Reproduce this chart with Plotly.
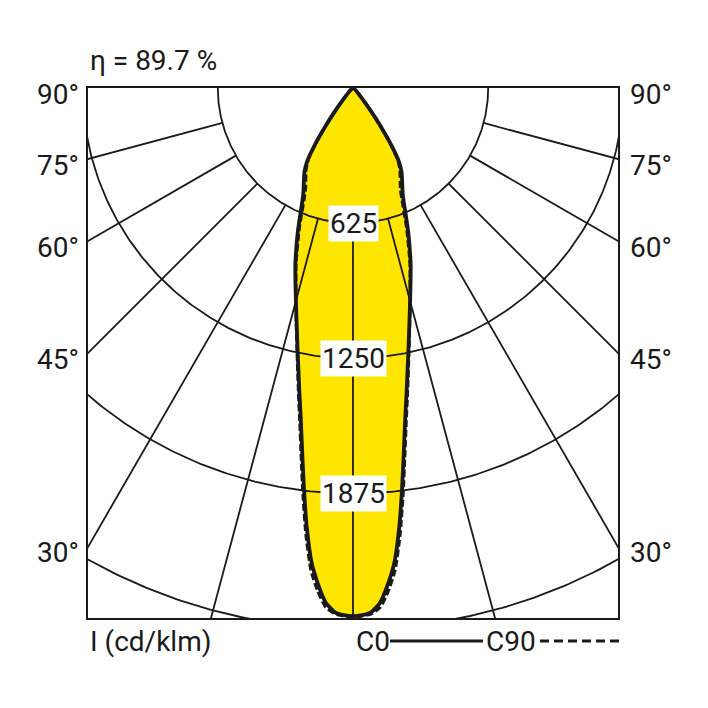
import numpy as np
import plotly.graph_objects as go

# ---- data ----
GAMMA = [0, 1, 2, 3, 4, 5, 6, 7, 8, 9, 10, 12, 15, 18, 21, 25, 30, 32, 34, 36, 38, 40, 45, 50, 60, 70, 80, 90]
I_C0 = [2441, 2437, 2424, 2384, 2302, 2200, 2043, 1862, 1690, 1544, 1427, 1233, 1020, 863, 712, 545, 449, 400, 310, 210, 130, 80, 30, 15, 5, 2, 1, 0]
I_C90 = [2445, 2441, 2432, 2404, 2332, 2235, 2078, 1897, 1720, 1569, 1447, 1243, 1020, 853, 692, 520, 434, 390, 305, 205, 128, 80, 30, 15, 5, 2, 1, 0]
RINGS = [625, 1250, 1875, 2500]
RING_LABELS = ["625", "1250", "1875"]
RADIAL_ANGLES = [0, 15, 30, 45, 60, 75]
ANGLE_LABELS = [90, 75, 60, 45, 30]
ETA_TEXT = "η = 89.7 %"
UNIT_TEXT = "I (cd/klm)"
LEGEND_NAMES = ["C0", "C90"]

XMAX = 1225
YMIN = -2450
FONT = "Roboto, Liberation Sans, sans-serif"
FS = 28
YELLOW = "#FFE600"
INK = "#1a1a1a"


def curve_xy(gammas, intens):
    g = np.radians(np.array(gammas, dtype=float))
    r = np.array(intens, dtype=float)
    xl = -r[::-1] * np.sin(g[::-1])
    yl = -r[::-1] * np.cos(g[::-1])
    xr = r[1:] * np.sin(g[1:])
    yr = -r[1:] * np.cos(g[1:])
    return np.concatenate([xl, xr]), np.concatenate([yl, yr])


fig = go.Figure()

# yellow fill
x0, y0 = curve_xy(GAMMA, I_C0)
fig.add_trace(go.Scatter(x=x0, y=y0, mode="lines", fill="toself", fillcolor=YELLOW,
                         line=dict(width=0, shape="spline", smoothing=0.5), hoverinfo="skip"))

# rings
gx, gy = [], []
t = np.radians(np.linspace(-90, 90, 361))
for R in RINGS:
    gx += list(R * np.sin(t)) + [None]
    gy += list(-R * np.cos(t)) + [None]
# radial lines
for a in RADIAL_ANGLES:
    for s in ([1, -1] if a != 0 else [1]):
        ar = np.radians(s * a)
        gx += [RINGS[0] * np.sin(ar), 4000 * np.sin(ar), None]
        gy += [-RINGS[0] * np.cos(ar), -4000 * np.cos(ar), None]
fig.add_trace(go.Scatter(x=gx, y=gy, mode="lines", line=dict(color=INK, width=1.8), hoverinfo="skip"))

# curves
x90, y90 = curve_xy(GAMMA, I_C90)
fig.add_trace(go.Scatter(x=x90, y=y90, mode="lines",
                         line=dict(color=INK, width=3.2, dash="7px,3px", shape="spline", smoothing=0.5)))
fig.add_trace(go.Scatter(x=x0, y=y0, mode="lines",
                         line=dict(color=INK, width=3.8, shape="spline", smoothing=0.5)))

# plot area is placed at screen px 88..618 (page body adds an 8px offset)
def px_x(p):
    return (p - 88) / 530


def px_y(p):
    return (618 - p) / 530


ann = []
for R, lab in zip(RINGS, RING_LABELS):
    ann.append(dict(x=0, y=-R, xref="x", yref="y", text=lab, showarrow=False,
                    bgcolor="white", borderpad=1, font=dict(size=FS, color=INK, family=FONT)))
for a in ANGLE_LABELS:
    yv = 0 if a == 90 else -XMAX / np.tan(np.radians(a))
    for xp, anch in ((-0.014, "right"), (1.018, "left")):
        ann.append(dict(x=xp, y=yv, xref="paper", yref="y", text=f"{a}°", showarrow=False,
                        xanchor=anch, yanchor="middle", yshift=-6,
                        font=dict(size=FS, color=INK, family=FONT)))
ann.append(dict(x=0, y=px_y(60), xref="paper", yref="paper", text=ETA_TEXT, showarrow=False,
                xanchor="left", yanchor="middle", font=dict(size=FS, color=INK, family=FONT)))
ann.append(dict(x=0, y=px_y(641), xref="paper", yref="paper", text=UNIT_TEXT, showarrow=False,
                xanchor="left", yanchor="middle", font=dict(size=FS, color=INK, family=FONT)))
ann.append(dict(x=px_x(354), y=px_y(641), xref="paper", yref="paper", text=LEGEND_NAMES[0],
                showarrow=False, xanchor="left", yanchor="middle", font=dict(size=FS, color=INK, family=FONT)))
ann.append(dict(x=px_x(484), y=px_y(641), xref="paper", yref="paper", text=LEGEND_NAMES[1],
                showarrow=False, xanchor="left", yanchor="middle", font=dict(size=FS, color=INK, family=FONT)))

ly = px_y(641)
shapes = [
    dict(type="line", xref="paper", yref="paper", x0=px_x(390), x1=px_x(483), y0=ly, y1=ly,
         line=dict(color=INK, width=3)),
    dict(type="line", xref="paper", yref="paper", x0=px_x(540), x1=px_x(619), y0=ly, y1=ly,
         line=dict(color=INK, width=3, dash="9px,5px")),
]

ax = dict(showgrid=False, zeroline=False, showticklabels=False, ticks="", showline=True, mirror=True,
          linecolor=INK, linewidth=2.2, fixedrange=True)
fig.update_layout(width=700, height=700, margin=dict(l=80, r=90, t=80, b=90),
                  plot_bgcolor="white", paper_bgcolor="white", showlegend=False,
                  xaxis=dict(range=[-XMAX, XMAX], **ax), yaxis=dict(range=[YMIN, 0], **ax),
                  annotations=ann, shapes=shapes)

fig.write_html("out.html")
